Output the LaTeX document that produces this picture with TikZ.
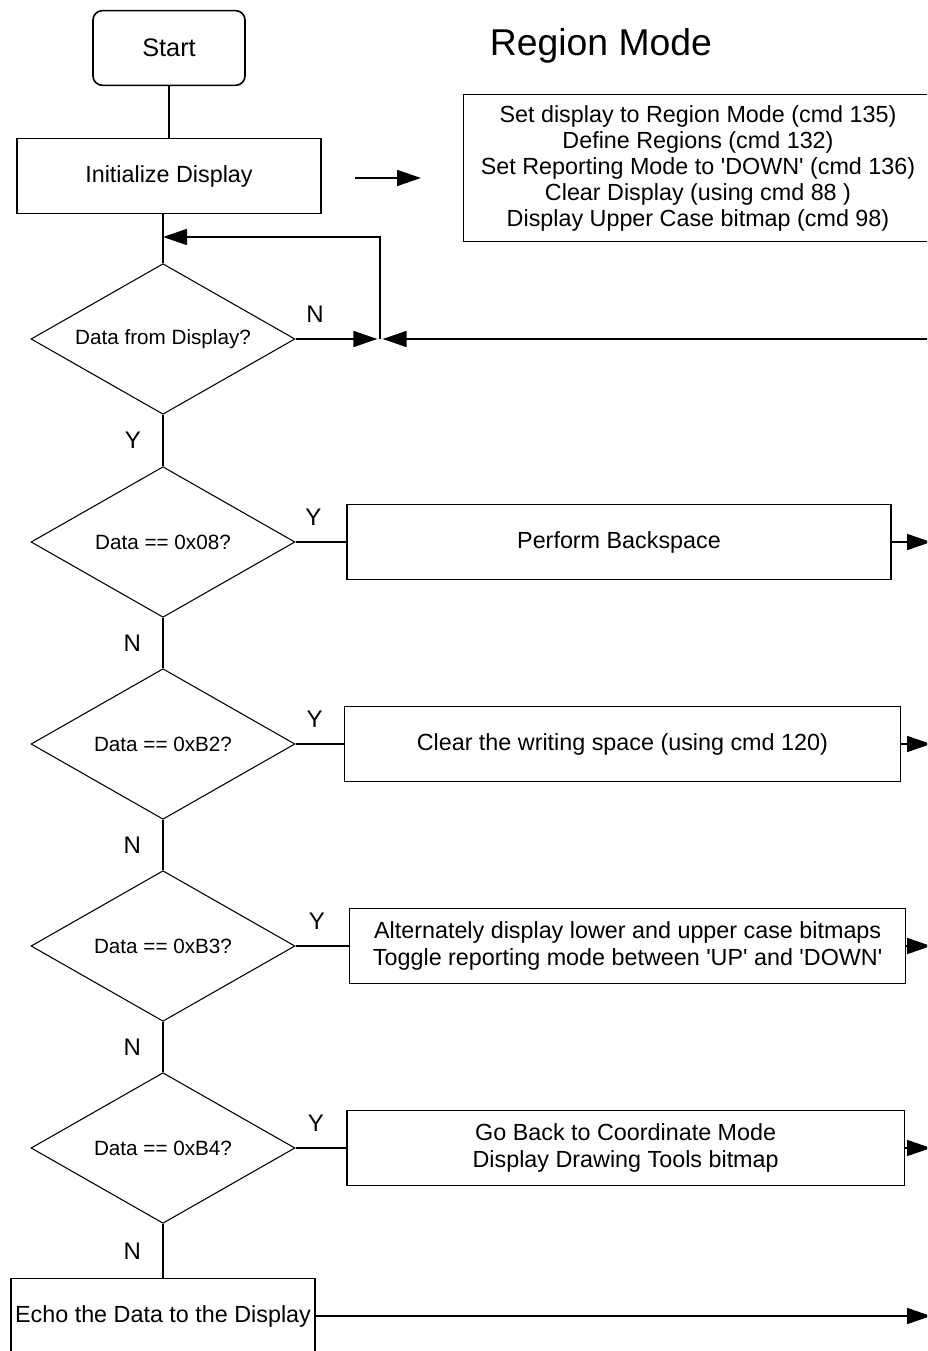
\documentclass[tikz,border=0pt]{standalone}
\usepackage{fontspec}
\setmainfont{Liberation Sans}
\usetikzlibrary{arrows.meta,positioning,shapes.geometric}

\begin{document}
\begin{tikzpicture}[x=0.75pt, y=-0.75pt, node distance=38pt,
    every node/.style={inner sep=2pt},
    box/.style={draw, line width=1.2pt, minimum width=#1, minimum height=56pt, align=center, font=\fontsize{17.5}{20}\selectfont},
    box/.default=228pt,
    decision/.style={diamond, draw, line width=0.8pt, aspect=1.76, minimum width=198pt, minimum height=113pt, font=\fontsize{15.5}{18}\selectfont},
    lbl/.style={font=\fontsize{18}{20}\selectfont},
    link/.style={line width=1.2pt},
    arr/.style={link, -{Triangle[length=18pt,width=12pt]}}]
    \useasboundingbox (0,0) rectangle (927,1351);
    \clip (0,0) rectangle (927,1351);

    \node [box=114pt, rounded corners=7pt, font=\fontsize{19}{22}\selectfont] (start) at (169,48) {Start};
    \node [box] (init) at (169,176) {Initialize Display};
    \node [font=\fontsize{28}{32}\selectfont] (title) at (601,46) {Region Mode};
    \node [box=352pt, minimum height=110pt, font=\fontsize{17.5}{19.5}\selectfont] (setup) at (698,168)
        {Set display to Region Mode (cmd 135)\\Define Regions (cmd 132)\\Set Reporting Mode to \textquotesingle DOWN\textquotesingle\ (cmd 136)\\Clear Display (using cmd 88 )\\Display Upper Case bitmap (cmd 98)};

    \node [decision] (d1) at (163,339) {Data from Display?};
    \node [decision] (d2) at (163,542) {Data == 0x08?};
    \node [decision] (d3) at (163,744) {Data == 0xB2?};
    \node [decision] (d4) at (163,946) {Data == 0xB3?};
    \node [decision] (d5) at (163,1148) {Data == 0xB4?};

    \node [box=408pt, right=of d2] (b1) {Perform Backspace};
    \node [box=417pt, right=36pt of d3] (b2) {Clear the writing space (using cmd 120)};
    \node [box=417pt, right=40pt of d4] (b3) {Alternately display lower and upper case bitmaps\\Toggle reporting mode between \textquotesingle UP\textquotesingle\ and \textquotesingle DOWN\textquotesingle};
    \node [box=418pt, right=of d5] (b4) {Go Back to Coordinate Mode\\Display Drawing Tools bitmap};
    \node [box] (echo) at (163,1316) {Echo the Data to the Display};

    \coordinate (rim) at (931,0);
    \coordinate (join) at (380,339);
    \coordinate (back) at (163,237);
    \coordinate (from) at (355,178);
    \coordinate (to) at (421,178);

    \draw [link] (start) -- (init);
    \draw [link] (init.south -| d1.north) -- (d1.north);
    \draw [arr] (from) -- (to);
    \draw [arr, shorten >=2pt] (d1) -- node [lbl, pos=0.23, above=10pt] {N} (join);
    \draw [arr, shorten >=2pt] (join -| rim) -- (join);
    \draw [arr] (join) |- (back);

    \draw [link] (d1) -- node [lbl, left=14pt] {Y} (d2);
    \draw [link] (d2) -- node [lbl, left=14pt] {N} (d3);
    \draw [link] (d3) -- node [lbl, left=14pt] {N} (d4);
    \draw [link] (d4) -- node [lbl, left=14pt] {N} (d5);
    \draw [link] (d5) -- node [lbl, left=14pt] {N} (echo);

    \draw [link] (d2) -- node [lbl, pos=0.35, above=10pt] {Y} (b1);
    \draw [link] (d3) -- node [lbl, pos=0.4, above=10pt] {Y} (b2);
    \draw [link] (d4) -- node [lbl, pos=0.4, above=10pt] {Y} (b3);
    \draw [link] (d5) -- node [lbl, pos=0.4, above=10pt] {Y} (b4);

    \draw [arr] (b1) -- (b1 -| rim);
    \draw [arr] (b2) -- (b2 -| rim);
    \draw [arr] (b3) -- (b3 -| rim);
    \draw [arr] (b4) -- (b4 -| rim);
    \draw [arr] (echo) -- (echo -| rim);
\end{tikzpicture}
\end{document}
